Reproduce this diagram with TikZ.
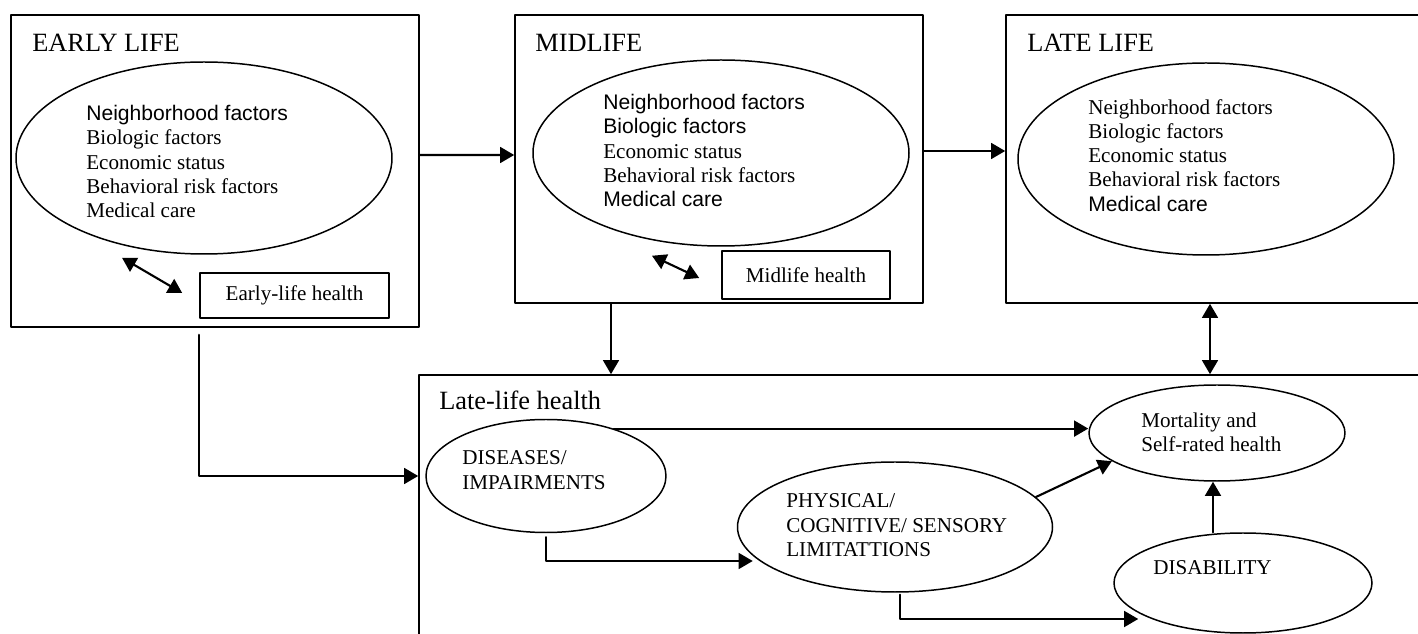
\documentclass[tikz,border=0pt]{standalone}
\usepackage{fontspec}
\setmainfont{Liberation Serif}
\newfontfamily\arialfont{Liberation Sans}
\usetikzlibrary{shapes.geometric,arrows.meta}
\newcommand{\sansline}[1]{{\arialfont #1}}

\begin{document}
\begin{tikzpicture}[line cap=round,line join=round,
  stage/.style={draw,line width=0.9pt,inner sep=0pt},
  oval/.style={draw,ellipse,line width=0.85pt,inner sep=0pt},
  txt/.style={font=\fontsize{12}{13.8}\selectfont,inner sep=0pt,align=left},
  head/.style={font=\fontsize{15}{18}\selectfont,inner sep=0pt,anchor=base west},
  arr/.style={line width=1.2pt,-{Triangle[length=8pt,width=9pt]}},
  both/.style={line width=1.2pt,{Triangle[length=8pt,width=9pt]}-{Triangle[length=8pt,width=9pt]}}]
  \clip (0,0) rectangle (28.36,-12.68);

  % stages of life
  \node[stage,minimum width=8.16cm,minimum height=6.24cm] (early) at (4.30,-3.42) {};
  \node[stage,minimum width=8.16cm,minimum height=5.76cm] (mid) at (14.38,-3.18) {};
  \node[stage,minimum width=8.48cm,minimum height=5.76cm] (late) at (24.36,-3.18) {};
  \node[head] (earlyTitle) at (0.64,-1.04) {EARLY LIFE};
  \node[head] (midTitle) at (10.70,-1.04) {MIDLIFE};
  \node[head] (lateTitle) at (20.54,-1.04) {LATE LIFE};

  \node[oval,minimum width=7.52cm,minimum height=3.84cm] (earlyOval) at (4.08,-3.16) {};
  \node[oval,minimum width=7.52cm,minimum height=3.72cm] (midOval) at (14.42,-3.06) {};
  \node[oval,minimum width=7.52cm,minimum height=3.84cm] (lateOval) at (24.12,-3.18) {};
  \node[txt,anchor=north west] (earlyList) at (1.72,-2.10)
    {\sansline{Neighborhood factors}\\Biologic factors\\Economic status\\Behavioral risk factors\\Medical care};
  \node[txt,anchor=north west] (midList) at (12.06,-1.88)
    {\sansline{Neighborhood factors}\\\sansline{Biologic factors}\\Economic status\\Behavioral risk factors\\\sansline{Medical care}};
  \node[txt,anchor=north west] (lateList) at (21.76,-1.98)
    {Neighborhood factors\\Biologic factors\\Economic status\\Behavioral risk factors\\\sansline{Medical care}};

  \node[stage,txt,minimum width=3.78cm,minimum height=0.90cm] (earlyHealth) at (5.89,-5.91) {Early-life health};
  \node[stage,txt,minimum width=3.36cm,minimum height=0.96cm] (midHealth) at (16.12,-5.50) {Midlife health};
  \draw[both] ([xshift=-1.64cm,yshift=-0.06cm]earlyOval.south) -- ([xshift=-0.34cm,yshift=0.05cm]earlyHealth.west);
  \draw[both] ([xshift=-1.38cm,yshift=-0.18cm]midOval.south) -- ([xshift=-0.44cm,yshift=-0.06cm]midHealth.west);

  % late-life health
  \node[stage,minimum width=20.22cm,minimum height=5.70cm] (life) at (18.49,-10.35) {};
  \node[head] (lifeTitle) at (8.78,-8.20) {Late-life health};
  \node[oval,minimum width=4.80cm,minimum height=2.26cm] (disOval) at (10.92,-9.52) {};
  \node[oval,minimum width=5.12cm,minimum height=1.92cm] (morOval) at (24.34,-8.66) {};
  \node[oval,minimum width=6.30cm,minimum height=2.60cm] (phyOval) at (17.90,-10.54) {};
  \node[oval,minimum width=5.16cm,minimum height=2.00cm] (disaOval) at (24.86,-11.66) {};
  \node[txt,anchor=north west] (disText) at (9.24,-9.01) {DISEASES/\\IMPAIRMENTS};
  \node[txt,anchor=north west] (morText) at (22.82,-8.25) {Mortality and\\Self-rated health};
  \node[txt,anchor=north west] (phyText) at (15.72,-9.87) {PHYSICAL/\\COGNITIVE/ SENSORY\\LIMITATTIONS};
  \node[txt,anchor=base west] (disaText) at (23.06,-11.50) {DISABILITY};

  % connectors
  \draw[arr] ([yshift=0.32cm]early.east) -- ([yshift=0.08cm]mid.west);
  \draw[arr] ([yshift=0.16cm]mid.east) -- ([yshift=0.16cm]late.west);
  \coordinate (midOut) at ([xshift=-2.16cm]mid.south);
  \draw[arr] (midOut) -- (midOut |- life.north);
  \coordinate (lateOut) at ([xshift=-0.16cm]late.south);
  \draw[both] (lateOut) -- (lateOut |- life.north);
  \coordinate (earlyOut) at ([xshift=-0.32cm,yshift=-0.14cm]early.south);
  \draw[arr] (earlyOut) |- (disOval.west -| life.west);

  \draw[arr] (disOval.35) -- (disOval.35 -| morOval.west);
  \draw[arr] ([yshift=-0.08cm]disOval.south) |- ([xshift=0.32cm,yshift=-0.68cm]phyOval.west);
  \draw[arr] (phyOval.12) -- (morOval.195);
  \coordinate (disaUp) at ([xshift=-0.6cm]disaOval.north);
  \draw[arr] (disaUp) -- (disaUp |- morOval.south);
  \draw[arr] ([xshift=0.1cm,yshift=-0.04cm]phyOval.south) |- ([xshift=0.5cm,yshift=-0.72cm]disaOval.west);
\end{tikzpicture}
\end{document}
